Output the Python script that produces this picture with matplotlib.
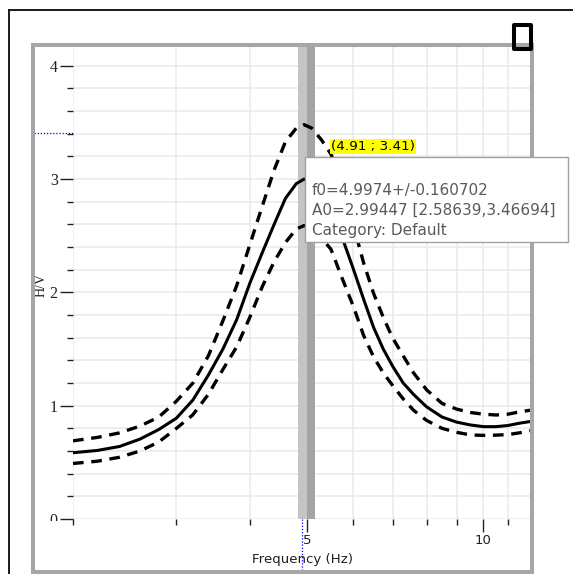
import matplotlib
matplotlib.use("Agg")
import matplotlib.pyplot as plt
import matplotlib.ticker as mtick
from matplotlib.patches import Rectangle
from matplotlib.lines import Line2D

# H/V curve
freq     = [2.0, 2.2, 2.4, 2.6, 2.8, 3.0, 3.2, 3.4, 3.6, 3.8, 4.0, 4.2, 4.4, 4.6,
            4.8, 4.95, 5.1, 5.3, 5.5, 5.75, 6.0, 6.25, 6.5, 6.75, 7.0, 7.3, 7.6,
            8.0, 8.5, 9.0, 9.5, 10.0, 10.5, 11.0, 11.5, 12.0]
hv_mean  = [0.585, 0.605, 0.64, 0.705, 0.79, 0.89, 1.05, 1.27, 1.50, 1.76, 2.08,
            2.35, 2.60, 2.83, 2.96, 3.00, 2.98, 2.88, 2.72, 2.48, 2.21, 1.94, 1.69,
            1.50, 1.35, 1.20, 1.10, 0.99, 0.90, 0.855, 0.83, 0.815, 0.815, 0.825,
            0.845, 0.86]
hv_upper = [0.69, 0.72, 0.76, 0.82, 0.90, 1.04, 1.20, 1.44, 1.75, 2.06, 2.42,
            2.76, 3.08, 3.33, 3.45, 3.48, 3.45, 3.345, 3.22, 2.93, 2.60, 2.26, 1.99,
            1.78, 1.60, 1.44, 1.29, 1.14, 1.02, 0.97, 0.94, 0.925, 0.918, 0.925,
            0.945, 0.96]
hv_lower = [0.49, 0.51, 0.545, 0.60, 0.68, 0.80, 0.92, 1.10, 1.32, 1.52, 1.78,
            2.05, 2.27, 2.44, 2.56, 2.59, 2.57, 2.48, 2.38, 2.12, 1.88, 1.62, 1.43,
            1.29, 1.18, 1.06, 0.96, 0.87, 0.80, 0.765, 0.742, 0.738, 0.74, 0.745,
            0.76, 0.78]

f0 = 4.9974
f0_err = 0.160702
cursor_x, cursor_y = 4.91, 3.41
cursor_label = "(4.91 ; 3.41)"
info_lines = ["f0=4.9974+/-0.160702", "A0=2.99447 [2.58639,3.46694]", "Category: Default"]

x_major = [5, 10]
x_minor = [2, 3, 4, 6, 7, 8, 9, 11]
y_major = [0, 1, 2, 3, 4]
y_minor = [0.2, 0.4, 0.6, 0.8, 1.2, 1.4, 1.6, 1.8, 2.2, 2.4, 2.6, 2.8,
           3.2, 3.4, 3.6, 3.8, 4.0, 4.2]

W, H = 573, 574
fig = plt.figure(figsize=(W / 100, H / 100), dpi=100)
fig.patch.set_facecolor("white")

def fx(x):
    return x / W

def fy(y):
    return 1 - y / H

# plot area: x 73..530 px, y 47..519 px
ax = fig.add_axes([fx(73), fy(519), fx(530) - fx(73), fy(47) - fy(519)])
ax.set_xscale("log")
ax.set_xlim(2, 12)
ax.set_ylim(0, 4.166)
for s in ax.spines.values():
    s.set_visible(False)

ax.xaxis.set_major_locator(mtick.FixedLocator(x_major))
ax.xaxis.set_minor_locator(mtick.FixedLocator(x_minor))
ax.xaxis.set_major_formatter(mtick.FixedFormatter(["5", "10"]))
ax.xaxis.set_minor_formatter(mtick.NullFormatter())
ax.yaxis.set_major_locator(mtick.FixedLocator(y_major))
ax.yaxis.set_minor_locator(mtick.FixedLocator(y_minor))

ax.tick_params(axis="x", which="major", length=9, width=1, color="#202020",
               pad=1.5, labelsize=9.5, labelcolor="#202020")
ax.tick_params(axis="x", which="minor", length=4, width=1, color="#202020")
ax.tick_params(axis="y", which="major", length=9.5, width=1, color="#202020",
               pad=1.5, labelsize=11.5, labelcolor="#202020")
ax.tick_params(axis="y", which="minor", length=4.3, width=1, color="#202020")
for lab in ax.get_yticklabels():
    lab.set_family("Liberation Serif")

ax.grid(True, which="both", color="#e9e9e9", linewidth=1.1, zorder=0)
ax.set_axisbelow(True)

# f0 +/- error band
ax.axvspan(f0 - f0_err, f0, color="#c4c4c4", lw=0, zorder=1)
ax.axvspan(f0, f0 + f0_err, color="#a4a4a4", lw=0, zorder=1)

ax.plot(freq, hv_mean, color="black", lw=2.2, zorder=3, solid_joinstyle="round")
ax.plot(freq, hv_upper, color="black", lw=2.4, dashes=(3.2, 2.3), zorder=3)
ax.plot(freq, hv_lower, color="black", lw=2.4, dashes=(3.2, 2.3), zorder=3)

# cursor guides outside the plot area
ax.plot([cursor_x, cursor_x], [0, -0.12], transform=ax.get_xaxis_transform(),
        color="blue", lw=0.9, ls=(0, (1, 1.5)), clip_on=False)
ax.plot([-0.085, 0], [cursor_y, cursor_y], transform=ax.get_yaxis_transform(),
        color="blue", lw=0.9, ls=(0, (1, 1.5)), clip_on=False)

ax.text(5.5, 3.26, cursor_label, fontsize=9.7, color="black", va="baseline",
        bbox=dict(boxstyle="square,pad=0.08", fc="#ffff00", ec="none"), zorder=5)

ax.set_xlabel("Frequency (Hz)", fontsize=9.6, color="#202020")
ax.xaxis.set_label_coords((302 - 73) / 457, -(560 - 519) / 472)
ax.xaxis.label.set_va("center")
ax.set_ylabel("H/V", fontsize=10, family="Liberation Serif", color="#202020")
ax.yaxis.set_label_coords(-(73 - 48) / 457, (519 - 285) / 472)

# hide the lower half of the "0" label like the original
fig.patches.append(Rectangle((fx(44), fy(531)), fx(59.5) - fx(44), fy(520.5) - fy(531),
                             transform=fig.transFigure, fc="white", ec="none", zorder=2))

# gray frame around the chart
fig.patches.append(Rectangle((fx(32.5), fy(571.5)), fx(531.8) - fx(32.5), fy(44.8) - fy(571.5),
                             transform=fig.transFigure, fc="none", ec="#a6a6a6", lw=2.9, zorder=3))

# tooltip
fig.patches.append(Rectangle((fx(305), fy(242)), fx(568) - fx(305), fy(157) - fy(242),
                             transform=fig.transFigure, fc="white", ec="#a0a0a0", lw=1.0, zorder=4))
for i, line in enumerate(info_lines):
    fig.text(fx(312), fy(195 + 20 * i), line, fontsize=11, color="#5a5a5a",
             va="baseline", zorder=5)

# outer black frame and small square
fig.lines.append(Line2D([fx(9), fx(9)], [fy(10), fy(574)], transform=fig.transFigure,
                        color="#1a1a1a", lw=1.4))
fig.lines.append(Line2D([fx(9), fx(573)], [fy(10), fy(10)], transform=fig.transFigure,
                        color="#1a1a1a", lw=1.4))
fig.patches.append(Rectangle((fx(514), fy(48.5)), fx(531) - fx(514), fy(25) - fy(48.5),
                             transform=fig.transFigure, fc="none", ec="black", lw=2.9,
                             joinstyle="round", zorder=6))

fig.savefig("out.png", dpi=100)
